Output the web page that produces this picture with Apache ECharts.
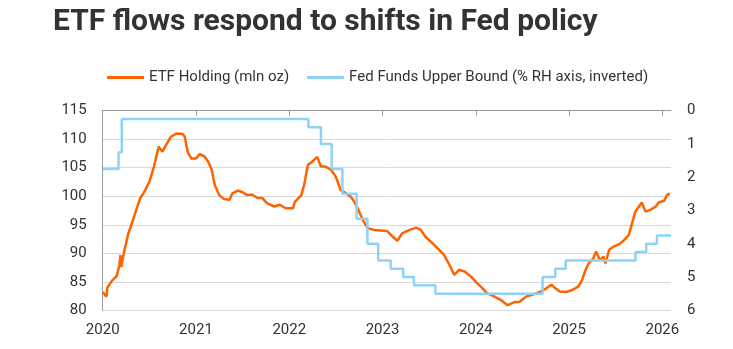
<!DOCTYPE html>
<html>
<head>
<meta charset="utf-8">
<script src="https://cdn.jsdelivr.net/npm/echarts@6/dist/echarts.min.js"></script>
<style>
html,body{margin:0;padding:0;background:#fff;}
#chart{width:733px;height:349px;}
</style>
</head>
<body>
<div id="chart"></div>
<script>
var titleText = 'ETF flows respond to shifts in Fed policy';
var seriesNames = ['ETF Holding (mln oz)', 'Fed Funds Upper Bound (% RH axis, inverted)'];
var xTickLabels = [2020, 2021, 2022, 2023, 2024, 2025, 2026];

// ETF holdings: time (decimal year) and value (mln oz)
var etfYears = [2020.00,2020.02,2020.04,2020.05,2020.10,2020.15,2020.18,2020.19,2020.20,2020.22,2020.27,2020.33,2020.40,2020.44,2020.46,2020.50,2020.55,2020.60,2020.64,2020.68,2020.73,2020.79,2020.86,2020.88,2020.91,2020.95,
2021.00,2021.04,2021.09,2021.13,2021.17,2021.20,2021.25,2021.30,2021.36,2021.39,2021.45,2021.50,2021.55,2021.60,2021.66,2021.71,2021.76,2021.84,2021.90,2021.96,
2022.04,2022.06,2022.13,2022.16,2022.20,2022.25,2022.30,2022.34,2022.39,2022.45,2022.50,2022.55,2022.61,2022.66,2022.70,2022.75,2022.79,2022.84,2022.91,2022.98,
2023.05,2023.11,2023.16,2023.21,2023.29,2023.36,2023.41,2023.46,2023.52,2023.59,2023.66,2023.71,2023.77,2023.82,2023.88,2023.95,
2024.00,2024.07,2024.12,2024.20,2024.27,2024.34,2024.41,2024.47,2024.54,2024.62,2024.70,2024.76,2024.81,2024.85,2024.90,2024.97,
2025.04,2025.10,2025.14,2025.17,2025.21,2025.26,2025.29,2025.33,2025.37,2025.39,2025.43,2025.48,2025.54,2025.59,2025.64,2025.68,2025.71,2025.75,2025.78,2025.82,2025.87,2025.93,2025.96,
2026.02,2026.05,2026.08];
var etfValues = [83.2,82.8,82.4,84.0,85.2,86.0,88.0,89.7,87.6,89.5,93.2,96.1,99.6,100.6,100.5,102.5,105.2,108.7,107.8,109.0,110.4,111.0,110.9,110.4,107.8,106.6,
106.6,107.4,107.0,106.1,104.6,102.0,100.2,99.5,99.4,100.5,101.0,100.7,100.2,100.3,99.7,99.7,98.8,98.2,98.5,97.9,
97.9,99.0,100.2,102.0,105.5,106.1,106.9,105.2,105.2,104.6,103.4,101.1,100.5,99.9,99.0,97.3,95.8,94.4,94.1,94.0,
93.9,92.9,92.2,93.5,94.1,94.5,94.1,92.9,92.0,90.9,89.7,88.2,86.2,87.1,86.8,85.9,
85.0,83.9,83.0,82.4,81.8,80.9,81.4,81.5,82.4,82.8,83.3,83.9,84.5,83.9,83.3,83.2,
83.6,84.2,85.3,86.8,88.2,89.1,90.3,88.8,89.4,88.2,90.6,91.2,91.6,92.3,93.2,95.5,97.3,98.2,98.9,97.3,97.6,98.2,98.9,
99.2,100.2,100.5];

// Fed funds upper bound: change dates and new rate (%)
var fedDates = ['2020-01-01','2020-03-03','2020-03-16','2022-03-17','2022-05-05','2022-06-16','2022-07-28','2022-09-22','2022-11-03','2022-12-15','2023-02-02','2023-03-23','2023-05-04','2023-07-27','2024-09-19','2024-11-08','2024-12-19','2025-09-18','2025-10-30','2025-12-11','2026-02-04'];
var fedRates = [1.75,1.25,0.25,0.50,1.00,1.75,2.50,3.25,4.00,4.50,4.75,5.00,5.25,5.50,5.00,4.75,4.50,4.25,4.00,3.75,3.75];

function toYear(s){
  var p = s.split('-').map(Number);
  var start = Date.UTC(p[0],0,1), end = Date.UTC(p[0]+1,0,1);
  return p[0] + (Date.UTC(p[0],p[1]-1,p[2]) - start)/(end-start);
}
var etfData = etfYears.map(function(y,i){return [y, etfValues[i]];});
var fedData = fedDates.map(function(d,i){return [toYear(d), fedRates[i]];});

var FONT = 'Roboto, "Noto Sans", sans-serif';
var chart = echarts.init(document.getElementById('chart'), null, {renderer:'canvas'});
chart.setOption({
  animation:false,
  backgroundColor:'#fff',
  title:{
    text:titleText, left:48, top:2,
    textStyle:{fontFamily:FONT, fontWeight:'bold', fontSize:30, color:'#333333'}
  },
  legend:{
    left:102, top:65, itemGap:18, itemWidth:37, itemHeight:3, icon:'rect',
    textStyle:{fontFamily:FONT, fontSize:15, color:'#333333'},
    data:[{name:seriesNames[0]},{name:seriesNames[1]}]
  },
  grid:{left:102.7, right:62, top:110.7, bottom:38.7},
  xAxis:{
    type:'value', min:2020, max:2026.093, interval:1,
    axisLine:{show:true, lineStyle:{color:'#9a9a9a', width:1}},
    axisTick:{show:true, length:5, lineStyle:{color:'#9a9a9a'}, customValues:xTickLabels},
    axisLabel:{fontFamily:FONT, fontSize:15, color:'#333333', margin:12, customValues:xTickLabels,
      formatter:function(v){return String(Math.round(v));}},
    splitLine:{show:false}
  },
  yAxis:[{
    type:'value', min:80, max:115, interval:5, position:'left',
    axisLine:{show:true, lineStyle:{color:'#9a9a9a', width:1}},
    axisTick:{show:false},
    axisLabel:{fontFamily:FONT, fontSize:15, color:'#333333', margin:16},
    splitLine:{show:true, lineStyle:{color:'#d9d9d9', width:1}}
  },{
    type:'value', min:0, max:6, interval:1, inverse:true, position:'right',
    axisLine:{show:false}, axisTick:{show:false},
    axisLabel:{fontFamily:FONT, fontSize:15, color:'#333333', margin:16},
    splitLine:{show:false}
  }],
  series:[{
    name:seriesNames[0], type:'line', yAxisIndex:0, data:etfData,
    showSymbol:false, symbol:'none', smooth:false,
    lineStyle:{color:'#FF6200', width:2.5}, itemStyle:{color:'#FF6200'}
  },{
    name:seriesNames[1], type:'line', yAxisIndex:1, data:fedData,
    step:'end', showSymbol:false, symbol:'none',
    lineStyle:{color:'#8DD3F5', width:2.5}, itemStyle:{color:'#8DD3F5'}
  }]
});
</script>
</body>
</html>
